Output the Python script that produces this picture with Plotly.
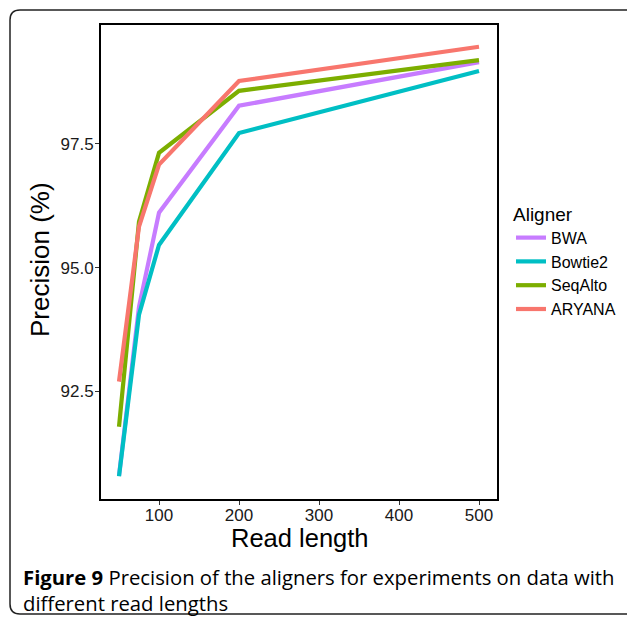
import plotly.graph_objects as go

read_length = [50, 75, 100, 200, 500]
bwa = [90.80, 94.21, 96.11, 98.27, 99.15]
bowtie2 = [90.79, 94.05, 95.46, 97.72, 98.97]
seqalto = [91.79, 95.93, 97.32, 98.57, 99.19]
aryana = [92.70, 95.83, 97.08, 98.77, 99.46]

series_names = ["BWA", "Bowtie2", "SeqAlto", "ARYANA"]
series_values = [bwa, bowtie2, seqalto, aryana]
colors = ["#C77CFF", "#00BFC4", "#7CAE00", "#F8766D"]

x_ticks = [100, 200, 300, 400, 500]
y_ticks = [92.5, 95.0, 97.5]

W, H = 627, 619
px_l, px_r, px_t, px_b = 101, 497, 25, 499

fig = go.Figure()
for name, vals, c in zip(series_names, series_values, colors):
    fig.add_trace(go.Scatter(x=read_length, y=vals, mode="lines", name=name,
                             line=dict(color=c, width=4.2)))

font_axis = "Liberation Sans, Arial, sans-serif"
fig.update_layout(
    width=W, height=H,
    margin=dict(l=0, r=0, t=0, b=0),
    paper_bgcolor="white", plot_bgcolor="white",
    showlegend=True,
    legend=dict(
        title=dict(text="Aligner", font=dict(size=19, family=font_axis, color="black")),
        font=dict(size=16, family=font_axis, color="black"),
        x=511 / W, y=1 - 196 / H, xanchor="left", yanchor="top",
        bgcolor="rgba(0,0,0,0)", tracegroupgap=0, itemwidth=30,
    ),
    xaxis=dict(
        domain=[px_l / W, px_r / W], range=[27.5, 522.5],
        tickvals=x_ticks, ticktext=[str(v) for v in x_ticks],
        showgrid=False, zeroline=False,
        showline=True, linecolor="black", linewidth=2, mirror=True,
        ticks="outside", ticklen=4, tickwidth=1, tickcolor="#333",
        ticklabelstandoff=-4,
        tickfont=dict(size=17, family=font_axis, color="#1a1a1a"),
    ),
    yaxis=dict(
        domain=[1 - px_b / H, 1 - px_t / H], range=[90.33, 99.9],
        tickvals=y_ticks, ticktext=["%.1f" % v for v in y_ticks],
        showgrid=False, zeroline=False,
        showline=True, linecolor="black", linewidth=2, mirror=True,
        ticks="outside", ticklen=4, tickwidth=1, tickcolor="#333",
        ticklabelstandoff=-2,
        tickfont=dict(size=17, family=font_axis, color="#1a1a1a"),
    ),
)

# axis titles
fig.add_annotation(text="Read length", x=300 / W, y=1 - 538 / H, xref="paper", yref="paper",
                   showarrow=False, font=dict(size=25.5, family=font_axis, color="black"),
                   xanchor="center", yanchor="middle")
fig.add_annotation(text="Precision (%)", x=40 / W, y=1 - 260 / H, xref="paper", yref="paper",
                   showarrow=False, textangle=-90, font=dict(size=26, family=font_axis, color="black"),
                   xanchor="center", yanchor="middle")

# caption
cap_font = "Open Sans, Noto Sans, sans-serif"
fig.add_annotation(text="<b>Figure 9</b> Precision of the aligners for experiments on data with<br>different read lengths",
                   x=21 / W, y=1 - 590 / H, xref="paper", yref="paper", showarrow=False, align="left",
                   font=dict(size=20.3, family=cap_font, color="black"), xanchor="left", yanchor="middle")

# outer rounded border (open on the right)
x0, y0, x1, y1, r = 10, 10, 640, 614, 10
def fx(p): return p / W
def fy(p): return 1 - p / H
path = (f"M {fx(x1)},{fy(y0)} L {fx(x0 + r)},{fy(y0)} Q {fx(x0)},{fy(y0)} {fx(x0)},{fy(y0 + r)} "
        f"L {fx(x0)},{fy(y1 - r)} Q {fx(x0)},{fy(y1)} {fx(x0 + r)},{fy(y1)} L {fx(x1)},{fy(y1)}")
fig.add_shape(type="path", path=path, xref="paper", yref="paper",
              line=dict(color="#222", width=1.5))

fig.write_html("out.html")
